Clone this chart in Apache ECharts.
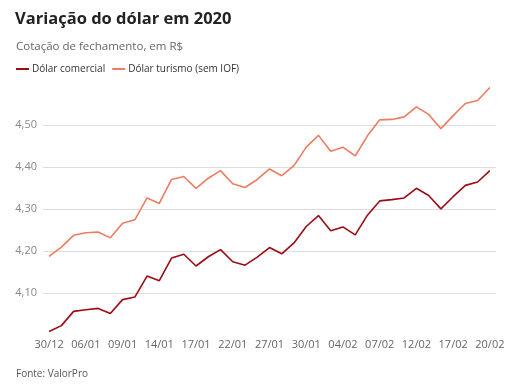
<!DOCTYPE html>
<html><head><meta charset="utf-8">
<script src="https://cdn.jsdelivr.net/npm/echarts@6/dist/echarts.min.js"></script>
<style>html,body{margin:0;padding:0;background:#fff}#c{width:523px;height:392px}</style>
</head><body><div id="c"></div>
<script>
var dates = ['30/12','02/01','03/01','06/01','07/01','08/01','09/01','10/01','13/01','14/01','15/01','16/01','17/01','20/01','21/01','22/01','23/01','24/01','27/01','28/01','29/01','30/01','31/01','03/02','04/02','05/02','06/02','07/02','10/02','11/02','12/02','13/02','14/02','17/02','18/02','19/02','20/02'];
var comercial = [4.009,4.023,4.057,4.061,4.064,4.052,4.085,4.091,4.141,4.130,4.184,4.193,4.165,4.187,4.204,4.175,4.167,4.186,4.209,4.194,4.220,4.259,4.285,4.249,4.258,4.239,4.286,4.320,4.323,4.327,4.350,4.333,4.301,4.330,4.357,4.365,4.392];
var turismo = [4.188,4.210,4.238,4.244,4.246,4.232,4.267,4.275,4.327,4.314,4.371,4.378,4.350,4.374,4.392,4.361,4.352,4.371,4.396,4.380,4.404,4.448,4.476,4.438,4.448,4.427,4.475,4.513,4.514,4.520,4.544,4.526,4.492,4.523,4.552,4.559,4.590];
var seriesNames = ['Dólar comercial','Dólar turismo (sem IOF)'];
var yMin = 4.0, yMax = 4.6, yStep = 0.1;

var chart = echarts.init(document.getElementById('c'));
var F = "'Open Sans', sans-serif";
chart.setOption({
  animation: false,
  textStyle: {fontFamily: F},
  title: [
    {text: 'Variação do dólar em 2020', left: 10, top: 6, textStyle: {fontFamily: F, fontSize: 16.5, fontWeight: 'bold', color: '#222'}},
    {text: 'Cotação de fechamento, em R$', left: 11, top: 36, textStyle: {fontFamily: F, fontSize: 11.5, fontWeight: 'normal', color: '#666'}},
    {text: 'Fonte: ValorPro', left: 11, top: 364, textStyle: {fontFamily: F, fontSize: 10, fontWeight: 'normal', color: '#555'}}
  ],
  legend: {
    left: 11, top: 59, itemWidth: 13, itemHeight: 2, itemGap: 7, icon: 'rect',
    textStyle: {fontFamily: F, fontSize: 10, color: '#333', padding: [0,0,0,-2]},
    data: seriesNames
  },
  grid: {left: 43, right: 27, top: 83.3, bottom: 56.7},
  xAxis: {
    type: 'category', data: dates, boundaryGap: true,
    axisLine: {show: false}, axisTick: {show: false},
    axisLabel: {interval: 2, color: '#666', fontSize: 11, margin: 4, fontFamily: F}
  },
  yAxis: {
    type: 'value', min: yMin, max: yMax, interval: yStep,
    axisLine: {show: false}, axisTick: {show: false},
    axisLabel: {color: '#888', fontSize: 11, margin: 6, fontFamily: F,
      showMinLabel: false, showMaxLabel: false,
      formatter: function(v){ return v.toFixed(2).replace('.', ','); }},
    splitLine: {lineStyle: {color: ['rgba(0,0,0,0)','#ddd','#ddd','#ddd','#ddd','#ddd','rgba(0,0,0,0)'], width: 1}}
  },
  series: [
    {name: seriesNames[0], type: 'line', data: comercial, symbol: 'none', lineStyle: {color: '#9e0b12', width: 1.6}, itemStyle: {color: '#9e0b12'}},
    {name: seriesNames[1], type: 'line', data: turismo, symbol: 'none', lineStyle: {color: '#ee7c62', width: 1.6}, itemStyle: {color: '#ee7c62'}}
  ]
});
</script></body></html>
